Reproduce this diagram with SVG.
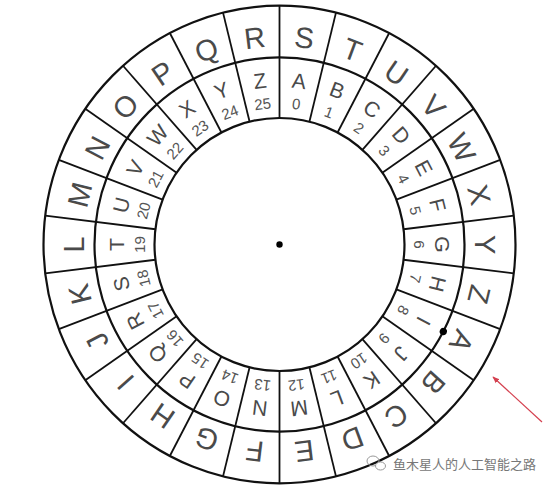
<svg xmlns="http://www.w3.org/2000/svg" width="556" height="489" viewBox="0 0 556 489">
<defs>
<style>
.ring{fill:none;stroke:#111;stroke-width:2.2}
.sp line{stroke:#111;stroke-width:1.8}
.o{font-family:"Liberation Sans",Arial,sans-serif;font-size:29px;fill:#4a4a4a;text-anchor:middle}
.i{font-family:"Liberation Sans",Arial,sans-serif;font-size:21px;fill:#4a4a4a;text-anchor:middle}
.n{font-family:"Liberation Sans",Arial,sans-serif;font-size:15px;fill:#555;text-anchor:middle}
.wm{font-family:"Noto Sans CJK SC","Noto Sans",sans-serif;font-size:13px;fill:#777}
</style>
<marker id="ah" viewBox="0 0 10 10" refX="9" refY="5" markerWidth="7" markerHeight="7" orient="auto-start-reverse" markerUnits="userSpaceOnUse">
<path d="M0,1 L10,5 L0,9 z" fill="#d4404f"/>
</marker>
</defs>
<rect width="556" height="489" fill="#fff"/>
<g id="wheel" transform="translate(279.5 244.5) scale(1 1.012)">
<g id="rings">
<circle class="ring" r="236" stroke-width="2.6"/>
<circle class="ring" r="185"/>
<circle class="ring" r="125"/>
</g>
<g id="spokes" class="sp">
<line x1="0" y1="-125" x2="0" y2="-236" transform="rotate(0)"/>
<line x1="0" y1="-125" x2="0" y2="-236" transform="rotate(13.846)"/>
<line x1="0" y1="-125" x2="0" y2="-236" transform="rotate(27.692)"/>
<line x1="0" y1="-125" x2="0" y2="-236" transform="rotate(41.538)"/>
<line x1="0" y1="-125" x2="0" y2="-236" transform="rotate(55.385)"/>
<line x1="0" y1="-125" x2="0" y2="-236" transform="rotate(69.231)"/>
<line x1="0" y1="-125" x2="0" y2="-236" transform="rotate(83.077)"/>
<line x1="0" y1="-125" x2="0" y2="-236" transform="rotate(96.923)"/>
<line x1="0" y1="-125" x2="0" y2="-236" transform="rotate(110.769)"/>
<line x1="0" y1="-125" x2="0" y2="-236" transform="rotate(124.615)"/>
<line x1="0" y1="-125" x2="0" y2="-236" transform="rotate(138.462)"/>
<line x1="0" y1="-125" x2="0" y2="-236" transform="rotate(152.308)"/>
<line x1="0" y1="-125" x2="0" y2="-236" transform="rotate(166.154)"/>
<line x1="0" y1="-125" x2="0" y2="-236" transform="rotate(180)"/>
<line x1="0" y1="-125" x2="0" y2="-236" transform="rotate(193.846)"/>
<line x1="0" y1="-125" x2="0" y2="-236" transform="rotate(207.692)"/>
<line x1="0" y1="-125" x2="0" y2="-236" transform="rotate(221.538)"/>
<line x1="0" y1="-125" x2="0" y2="-236" transform="rotate(235.385)"/>
<line x1="0" y1="-125" x2="0" y2="-236" transform="rotate(249.231)"/>
<line x1="0" y1="-125" x2="0" y2="-236" transform="rotate(263.077)"/>
<line x1="0" y1="-125" x2="0" y2="-236" transform="rotate(276.923)"/>
<line x1="0" y1="-125" x2="0" y2="-236" transform="rotate(290.769)"/>
<line x1="0" y1="-125" x2="0" y2="-236" transform="rotate(304.615)"/>
<line x1="0" y1="-125" x2="0" y2="-236" transform="rotate(318.462)"/>
<line x1="0" y1="-125" x2="0" y2="-236" transform="rotate(332.308)"/>
<line x1="0" y1="-125" x2="0" y2="-236" transform="rotate(346.154)"/>
</g>
<g id="outer-letters">
<text class="o" y="10.4" transform="rotate(6.923) translate(0 -206)">S</text>
<text class="o" y="10.4" transform="rotate(20.769) translate(0 -206)">T</text>
<text class="o" y="10.4" transform="rotate(34.615) translate(0 -206)">U</text>
<text class="o" y="10.4" transform="rotate(48.462) translate(0 -206)">V</text>
<text class="o" y="10.4" transform="rotate(62.308) translate(0 -206)">W</text>
<text class="o" y="10.4" transform="rotate(76.154) translate(0 -206)">X</text>
<text class="o" y="10.4" transform="rotate(90) translate(0 -206)">Y</text>
<text class="o" y="10.4" transform="rotate(103.846) translate(0 -206)">Z</text>
<text class="o" y="10.4" transform="rotate(117.692) translate(0 -206)">A</text>
<text class="o" y="10.4" transform="rotate(131.538) translate(0 -206)">B</text>
<text class="o" y="10.4" transform="rotate(145.385) translate(0 -206)">C</text>
<text class="o" y="10.4" transform="rotate(159.231) translate(0 -206)">D</text>
<text class="o" y="10.4" transform="rotate(173.077) translate(0 -206)">E</text>
<text class="o" y="10.4" transform="rotate(186.923) translate(0 -206)">F</text>
<text class="o" y="10.4" transform="rotate(200.769) translate(0 -206)">G</text>
<text class="o" y="10.4" transform="rotate(214.615) translate(0 -206)">H</text>
<text class="o" y="10.4" transform="rotate(228.462) translate(0 -206)">I</text>
<text class="o" y="10.4" transform="rotate(242.308) translate(0 -206)">J</text>
<text class="o" y="10.4" transform="rotate(256.154) translate(0 -206)">K</text>
<text class="o" y="10.4" transform="rotate(270) translate(0 -206)">L</text>
<text class="o" y="10.4" transform="rotate(283.846) translate(0 -206)">M</text>
<text class="o" y="10.4" transform="rotate(297.692) translate(0 -206)">N</text>
<text class="o" y="10.4" transform="rotate(311.538) translate(0 -206)">O</text>
<text class="o" y="10.4" transform="rotate(325.385) translate(0 -206)">P</text>
<text class="o" y="10.4" transform="rotate(339.231) translate(0 -206)">Q</text>
<text class="o" y="10.4" transform="rotate(353.077) translate(0 -206)">R</text>
</g>
<g id="inner-letters">
<text class="i" y="7.5" transform="rotate(6.923) translate(0 -163)">A</text>
<text class="i" y="7.5" transform="rotate(20.769) translate(0 -163)">B</text>
<text class="i" y="7.5" transform="rotate(34.615) translate(0 -163)">C</text>
<text class="i" y="7.5" transform="rotate(48.462) translate(0 -163)">D</text>
<text class="i" y="7.5" transform="rotate(62.308) translate(0 -163)">E</text>
<text class="i" y="7.5" transform="rotate(76.154) translate(0 -163)">F</text>
<text class="i" y="7.5" transform="rotate(90) translate(0 -163)">G</text>
<text class="i" y="7.5" transform="rotate(103.846) translate(0 -163)">H</text>
<text class="i" y="7.5" transform="rotate(117.692) translate(0 -163)">I</text>
<text class="i" y="7.5" transform="rotate(131.538) translate(0 -163)">J</text>
<text class="i" y="7.5" transform="rotate(145.385) translate(0 -163)">K</text>
<text class="i" y="7.5" transform="rotate(159.231) translate(0 -163)">L</text>
<text class="i" y="7.5" transform="rotate(173.077) translate(0 -163)">M</text>
<text class="i" y="7.5" transform="rotate(186.923) translate(0 -163)">N</text>
<text class="i" y="7.5" transform="rotate(200.769) translate(0 -163)">O</text>
<text class="i" y="7.5" transform="rotate(214.615) translate(0 -163)">P</text>
<text class="i" y="7.5" transform="rotate(228.462) translate(0 -163)">Q</text>
<text class="i" y="7.5" transform="rotate(242.308) translate(0 -163)">R</text>
<text class="i" y="7.5" transform="rotate(256.154) translate(0 -163)">S</text>
<text class="i" y="7.5" transform="rotate(270) translate(0 -163)">T</text>
<text class="i" y="7.5" transform="rotate(283.846) translate(0 -163)">U</text>
<text class="i" y="7.5" transform="rotate(297.692) translate(0 -163)">V</text>
<text class="i" y="7.5" transform="rotate(311.538) translate(0 -163)">W</text>
<text class="i" y="7.5" transform="rotate(325.385) translate(0 -163)">X</text>
<text class="i" y="7.5" transform="rotate(339.231) translate(0 -163)">Y</text>
<text class="i" y="7.5" transform="rotate(353.077) translate(0 -163)">Z</text>
</g>
<g id="numbers">
<text class="n" y="5.4" transform="rotate(6.923) translate(0 -140)">0</text>
<text class="n" y="5.4" transform="rotate(20.769) translate(0 -140)">1</text>
<text class="n" y="5.4" transform="rotate(34.615) translate(0 -140)">2</text>
<text class="n" y="5.4" transform="rotate(48.462) translate(0 -140)">3</text>
<text class="n" y="5.4" transform="rotate(62.308) translate(0 -140)">4</text>
<text class="n" y="5.4" transform="rotate(76.154) translate(0 -140)">5</text>
<text class="n" y="5.4" transform="rotate(90) translate(0 -140)">6</text>
<text class="n" y="5.4" transform="rotate(103.846) translate(0 -140)">7</text>
<text class="n" y="5.4" transform="rotate(117.692) translate(0 -140)">8</text>
<text class="n" y="5.4" transform="rotate(131.538) translate(0 -140)">9</text>
<text class="n" y="5.4" transform="rotate(145.385) translate(0 -140)">10</text>
<text class="n" y="5.4" transform="rotate(159.231) translate(0 -140)">11</text>
<text class="n" y="5.4" transform="rotate(173.077) translate(0 -140)">12</text>
<text class="n" y="5.4" transform="rotate(186.923) translate(0 -140)">13</text>
<text class="n" y="5.4" transform="rotate(200.769) translate(0 -140)">14</text>
<text class="n" y="5.4" transform="rotate(214.615) translate(0 -140)">15</text>
<text class="n" y="5.4" transform="rotate(228.462) translate(0 -140)">16</text>
<text class="n" y="5.4" transform="rotate(242.308) translate(0 -140)">17</text>
<text class="n" y="5.4" transform="rotate(256.154) translate(0 -140)">18</text>
<text class="n" y="5.4" transform="rotate(270) translate(0 -140)">19</text>
<text class="n" y="5.4" transform="rotate(283.846) translate(0 -140)">20</text>
<text class="n" y="5.4" transform="rotate(297.692) translate(0 -140)">21</text>
<text class="n" y="5.4" transform="rotate(311.538) translate(0 -140)">22</text>
<text class="n" y="5.4" transform="rotate(325.385) translate(0 -140)">23</text>
<text class="n" y="5.4" transform="rotate(339.231) translate(0 -140)">24</text>
<text class="n" y="5.4" transform="rotate(353.077) translate(0 -140)">25</text>
</g>
<g id="dots">
<circle r="3.2" fill="#000"/>
<circle r="3.6" fill="#000" transform="rotate(117.692) translate(0 -185)"/>
</g>
</g>
<g id="connectors">
<line x1="542" y1="422" x2="493" y2="377" stroke="#d4404f" stroke-width="1.2" marker-end="url(#ah)"/>
</g>
<g id="watermark">
<ellipse cx="373" cy="461" rx="6" ry="5" fill="none" stroke="#999" stroke-width="1"/>
<ellipse cx="380.5" cy="466" rx="5" ry="4" fill="#fff" stroke="#999" stroke-width="1"/>
<text class="wm" x="393" y="469">鱼木星人的人工智能之路</text>
</g>
</svg>
